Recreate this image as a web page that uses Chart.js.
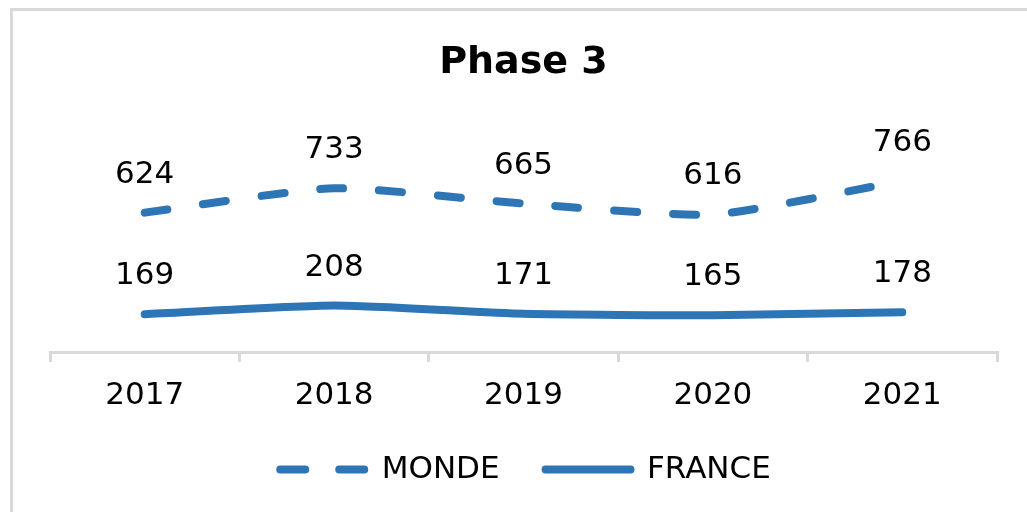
<!DOCTYPE html>
<html>
<head>
<meta charset="utf-8">
<script src="https://cdn.jsdelivr.net/npm/chart.js@4.4.0/dist/chart.umd.min.js"></script>
<style>
html, body { margin: 0; padding: 0; background: #ffffff; overflow: hidden; }
#wrap { width: 1027px; height: 512px; position: relative; }
</style>
</head>
<body>
<div id="wrap"><canvas id="c" width="1027" height="512"></canvas></div>
<script>
const categories = ['2017', '2018', '2019', '2020', '2021'];
const mondeValues = [624, 733, 665, 616, 766];
const franceValues = [169, 208, 171, 165, 178];
const seriesNames = ['MONDE', 'FRANCE'];
const chartTitle = 'Phase 3';

const BLUE = '#2e75b6';
const FONT = '"DejaVu Sans", Verdana, sans-serif';
Chart.defaults.font.family = FONT;
Chart.defaults.color = '#000000';

const LEGEND_BOX = 90;

const framePlugin = {
  id: 'frame',
  beforeDraw(chart) {
    const ctx = chart.ctx;
    ctx.save();
    ctx.fillStyle = '#ffffff';
    ctx.fillRect(0, 0, chart.width, chart.height);
    ctx.fillStyle = '#d9d9d9';
    ctx.fillRect(10, 8, 3, chart.height - 8);
    ctx.fillRect(10, 8, chart.width - 10, 3);
    ctx.restore();
  }
};

const valueLabels = {
  id: 'valueLabels',
  afterDatasetsDraw(chart) {
    const ctx = chart.ctx;
    ctx.save();
    ctx.font = '31px ' + FONT;
    ctx.fillStyle = '#000000';
    ctx.textAlign = 'center';
    ctx.textBaseline = 'middle';
    chart.data.datasets.forEach((ds, di) => {
      const meta = chart.getDatasetMeta(di);
      meta.data.forEach((pt, i) => {
        ctx.fillText(String(ds.data[i]), pt.x, pt.y - 38);
      });
    });
    ctx.restore();
  }
};

// legend line samples (dashed for MONDE), placed at the legend's own hit boxes
const legendSamples = {
  id: 'legendSamples',
  afterDraw(chart) {
    const legend = chart.legend;
    if (!legend || !legend.legendHitBoxes) return;
    const ctx = chart.ctx;
    ctx.save();
    legend.legendHitBoxes.forEach((hb, i) => {
      const ds = chart.data.datasets[i];
      const y = hb.top + hb.height / 2;
      ctx.beginPath();
      ctx.strokeStyle = ds.borderColor;
      ctx.lineWidth = ds.borderWidth;
      ctx.lineCap = 'round';
      ctx.setLineDash(ds.borderDash ? [25, 34] : []);
      ctx.moveTo(hb.left + 4, y);
      ctx.lineTo(hb.left + LEGEND_BOX - 1, y);
      ctx.stroke();
    });
    ctx.restore();
  }
};

new Chart(document.getElementById('c'), {
  type: 'line',
  data: {
    labels: categories,
    datasets: [
      {
        label: seriesNames[0],
        data: mondeValues,
        borderColor: BLUE,
        backgroundColor: BLUE,
        borderWidth: 8,
        borderDash: [23, 36],
        borderCapStyle: 'round',
        borderJoinStyle: 'round',
        tension: 0.2,
        pointRadius: 0,
        fill: false
      },
      {
        label: seriesNames[1],
        data: franceValues,
        borderColor: BLUE,
        backgroundColor: BLUE,
        borderWidth: 8,
        borderCapStyle: 'round',
        borderJoinStyle: 'round',
        tension: 0.2,
        pointRadius: 0,
        fill: false
      }
    ]
  },
  options: {
    responsive: false,
    animation: false,
    devicePixelRatio: 1,
    layout: { padding: { left: 50, right: 30, top: 0, bottom: 17 } },
    plugins: {
      title: {
        display: true,
        text: chartTitle,
        color: '#000000',
        font: { size: 38, weight: 'bold', family: FONT },
        padding: { top: 40.8, bottom: 64.6 }
      },
      legend: {
        position: 'bottom',
        labels: {
          usePointStyle: true,
          pointStyle: 'line',
          pointStyleWidth: LEGEND_BOX,
          color: '#000000',
          font: { size: 31, family: FONT },
          padding: 42,
          generateLabels(chart) {
            const items = Chart.defaults.plugins.legend.labels.generateLabels(chart);
            return items.map(it => Object.assign(it, {
              lineWidth: 0,
              strokeStyle: 'rgba(0,0,0,0)',
              fillStyle: 'rgba(0,0,0,0)'
            }));
          }
        }
      },
      tooltip: { enabled: false }
    },
    scales: {
      x: {
        offset: true,
        grid: {
          offset: true,
          drawOnChartArea: false,
          drawTicks: true,
          tickLength: 10,
          color: '#d9d9d9',
          lineWidth: 3
        },
        border: { display: true, color: '#d9d9d9', width: 3 },
        ticks: {
          color: '#000000',
          font: { size: 31, family: FONT },
          padding: 15,
          maxRotation: 0
        },
        afterFit(scale) { scale.height = 60; }
      },
      y: { display: false, min: 0, max: 900 }
    }
  },
  plugins: [framePlugin, valueLabels, legendSamples]
});
</script>
</body>
</html>
